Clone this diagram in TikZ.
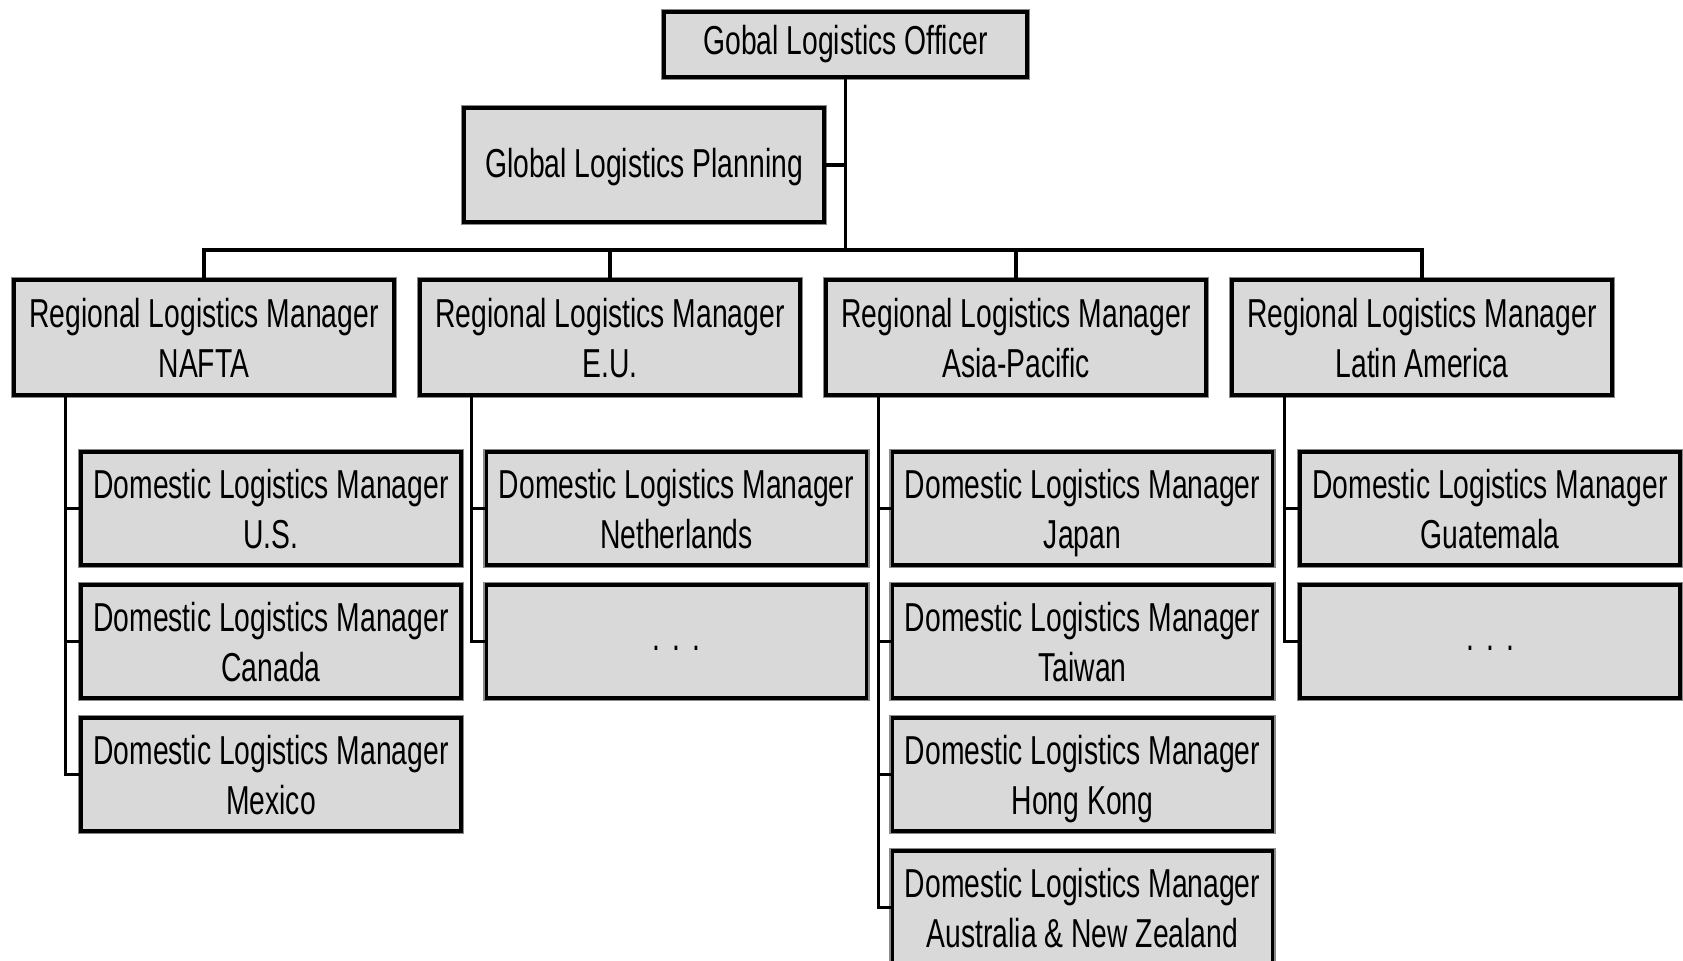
\documentclass[tikz,border=0pt]{standalone}
\usepackage{fontspec}
\setmainfont{Liberation Sans}[FakeStretch=0.70]
\definecolor{boxfill}{HTML}{D9D9D9}
\definecolor{halo}{HTML}{8A8A8A}
\newcommand{\mydots}{\raisebox{-5pt}{.\hspace{0.3em}.\hspace{0.3em}.}}
\tikzset{
  orgbox/.style={rectangle, fill=boxfill, draw=black, line width=2pt,
    preaction={draw=halo, line width=3.6pt},
    inner sep=0pt, align=center, text depth=0pt, font=\fontsize{23}{28.3}\selectfont},
  regbox/.style={orgbox, minimum width=7.6cm, minimum height=2.3cm},
  dombox/.style={orgbox, minimum width=7.6cm, minimum height=2.26cm},
  link/.style={draw=black, line width=1.9pt}
}
\begin{document}
\begin{tikzpicture}[x=0.02cm,y=-0.02cm]
\useasboundingbox (0,0) rectangle (1683,960);
% top levels
\node[orgbox, text depth=5pt, minimum width=7.26cm, minimum height=1.3cm] (top) at (845.5,44.5) {Gobal Logistics Officer};
\node[orgbox, text depth=3pt, minimum width=7.2cm, minimum height=2.28cm] (plan) at (644,165) {Global Logistics Planning};
\coordinate (bus) at (845.5,250);
% regional
\node[regbox] (r1) at (204,337.5) {Regional Logistics Manager\\NAFTA};
\node[regbox] (r2) at (610,337.5) {Regional Logistics Manager\\E.U.};
\node[regbox] (r3) at (1016,337.5) {Regional Logistics Manager\\Asia-Pacific};
\node[regbox] (r4) at (1422,337.5) {Regional Logistics Manager\\Latin America};
% domestic NAFTA
\node[dombox] (d11) at (271,508.5) {Domestic Logistics Manager\\U.S.};
\node[dombox] (d12) at (271,641.5) {Domestic Logistics Manager\\Canada};
\node[dombox] (d13) at (271,774.5) {Domestic Logistics Manager\\Mexico};
% domestic EU
\node[dombox] (d21) at (676.5,508.5) {Domestic Logistics Manager\\Netherlands};
\node[dombox] (d22) at (676.5,641.5) {\mydots};
% domestic Asia
\node[dombox] (d31) at (1082.5,508.5) {Domestic Logistics Manager\\Japan};
\node[dombox] (d32) at (1082.5,641.5) {Domestic Logistics Manager\\Taiwan};
\node[dombox] (d33) at (1082.5,774.5) {Domestic Logistics Manager\\Hong Kong};
\node[dombox] (d34) at (1082.5,907.5) {Domestic Logistics Manager\\Australia \& New Zealand};
% domestic Latin America
\node[dombox] (d41) at (1490,508.5) {Domestic Logistics Manager\\Guatemala};
\node[dombox] (d42) at (1490,641.5) {\mydots};
% connectors upper
\draw[link] (top.south) -- (bus);
\draw[link] (plan.east) -- (plan.east -| bus);
\draw[link] (r1.north) |- (bus) -| (r4.north);
\draw[link] (r2.north) -- (r2.north |- bus);
\draw[link] (r3.north) -- (r3.north |- bus);
% connectors lower
\coordinate (v1) at ([xshift=1.06cm]r1.south west);
\coordinate (v2) at ([xshift=1.06cm]r2.south west);
\coordinate (v3) at ([xshift=1.08cm]r3.south west);
\coordinate (v4) at ([xshift=1.08cm]r4.south west);
\draw[link] (v1) |- (d13.west);
\draw[link] (v1 |- d11.west) -- (d11.west);
\draw[link] (v1 |- d12.west) -- (d12.west);
\draw[link] (v2) |- (d22.west);
\draw[link] (v2 |- d21.west) -- (d21.west);
\draw[link] (v3) |- (d34.west);
\draw[link] (v3 |- d31.west) -- (d31.west);
\draw[link] (v3 |- d32.west) -- (d32.west);
\draw[link] (v3 |- d33.west) -- (d33.west);
\draw[link] (v4) |- (d42.west);
\draw[link] (v4 |- d41.west) -- (d41.west);
\end{tikzpicture}
\end{document}
